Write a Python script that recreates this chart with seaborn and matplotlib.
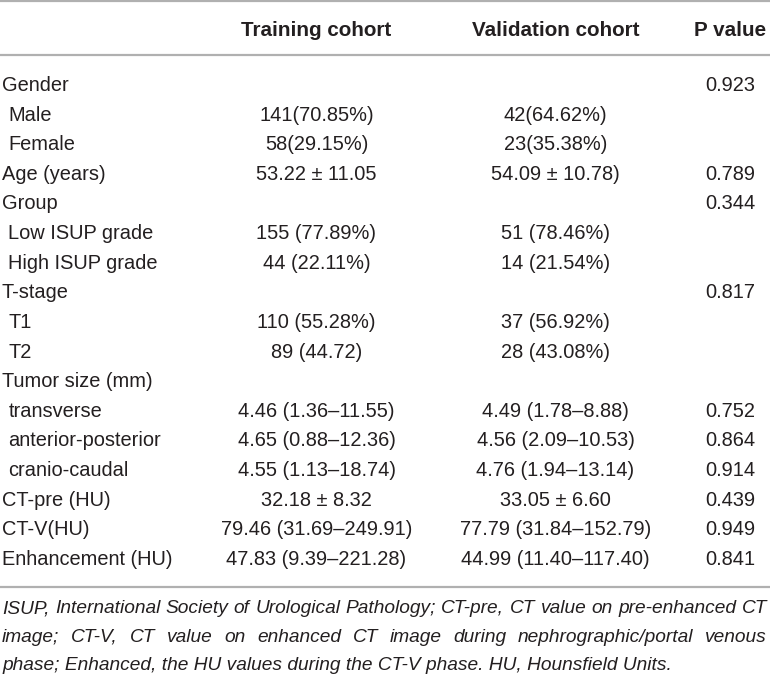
import matplotlib
matplotlib.use("Agg")
import matplotlib.pyplot as plt
import seaborn as sns

# ---------------- data ----------------
header_labels = ["Training cohort", "Validation cohort", "P value"]
row_labels = ["Gender", "Male", "Female", "Age (years)", "Group", "Low ISUP grade",
              "High ISUP grade", "T-stage", "T1", "T2", "Tumor size (mm)", "transverse",
              "anterior-posterior", "cranio-caudal", "CT-pre (HU)", "CT-V(HU)",
              "Enhancement (HU)"]
row_indent = [False, True, True, False, False, True, True, False, True, True, False,
              True, True, True, False, False, False]
training = ["", "141(70.85%)", "58(29.15%)", "53.22 \u00b1 11.05", "", "155 (77.89%)",
            "44 (22.11%)", "", "110 (55.28%)", "89 (44.72)", "", "4.46 (1.36\u201311.55)",
            "4.65 (0.88\u201312.36)", "4.55 (1.13\u201318.74)", "32.18 \u00b1 8.32",
            "79.46 (31.69\u2013249.91)", "47.83 (9.39\u2013221.28)"]
validation = ["", "42(64.62%)", "23(35.38%)", "54.09 \u00b1 10.78)", "", "51 (78.46%)",
              "14 (21.54%)", "", "37 (56.92%)", "28 (43.08%)", "", "4.49 (1.78\u20138.88)",
              "4.56 (2.09\u201310.53)", "4.76 (1.94\u201313.14)", "33.05 \u00b1 6.60",
              "77.79 (31.84\u2013152.79)", "44.99 (11.40\u2013117.40)"]
p_values = ["0.923", "", "", "0.789", "0.344", "", "", "0.817", "", "", "",
            "0.752", "0.864", "0.914", "0.439", "0.949", "0.841"]
footnote_lines = [
    "ISUP, International Society of Urological Pathology; CT-pre, CT value on pre-enhanced CT",
    "image; CT-V, CT value on enhanced CT image during nephrographic/portal venous",
    "phase; Enhanced, the HU values during the CT-V phase. HU, Hounsfield Units.",
]

# ---------------- style ----------------
sns.set_theme(style="white")
plt.rcParams["font.family"] = ["Liberation Sans", "DejaVu Sans"]

W, H = 772, 677
fig = plt.figure(figsize=(W / 100, H / 100), dpi=100)
ax = fig.add_axes([0, 0, 1, 1])
ax.set_xlim(0, W)
ax.set_ylim(H, 0)
ax.axis("off")

txt_color = "#231f20"
line_color = "#b0b0b0"
fs = 14.4          # ~20 px
fs_head = 14.9

col_x = [316.5, 555.5, 730.5]

# rules
for y in (1.0, 54.5, 587.0):
    ax.plot([0, 770], [y, y], color=line_color, lw=1.6, solid_capstyle="butt")

# header
for x, lab in zip(col_x, header_labels):
    ax.text(x, 36.5, lab, ha="center", va="baseline", fontsize=fs_head,
            fontweight="bold", color=txt_color)

# body rows
y0, dy = 91.0, 29.62
for i, lab in enumerate(row_labels):
    y = y0 + i * dy
    ax.text(8.5 if row_indent[i] else 2.0, y, lab, ha="left", va="baseline",
            fontsize=fs, color=txt_color)
    for x, val in zip(col_x, (training[i], validation[i], p_values[i])):
        if val:
            ax.text(x, y, val, ha="center", va="baseline", fontsize=fs, color=txt_color)

# footnote (justified)
renderer = fig.canvas.get_renderer()


def width_of(s, size):
    t = ax.text(0, 0, s, fontsize=size, style="italic")
    w = t.get_window_extent(renderer=renderer).width
    t.remove()
    return w


left, right = 2.0, 767.0
fn_fs = fs * (right - left) / width_of(footnote_lines[0], fs)
fn_y = [613.0, 641.5, 670.0]
for k, (line, y) in enumerate(zip(footnote_lines, fn_y)):
    words = line.split(" ")
    if k < len(footnote_lines) - 1:
        widths = [width_of(w, fn_fs) for w in words]
        gap = (right - left - sum(widths)) / (len(words) - 1)
        x = left
        for w, wd in zip(words, widths):
            ax.text(x, y, w, ha="left", va="baseline", fontsize=fn_fs,
                    style="italic", color=txt_color)
            x += wd + gap
    else:
        ax.text(left, y, line, ha="left", va="baseline", fontsize=fn_fs,
                style="italic", color=txt_color)

fig.savefig("out.png", dpi=100)
